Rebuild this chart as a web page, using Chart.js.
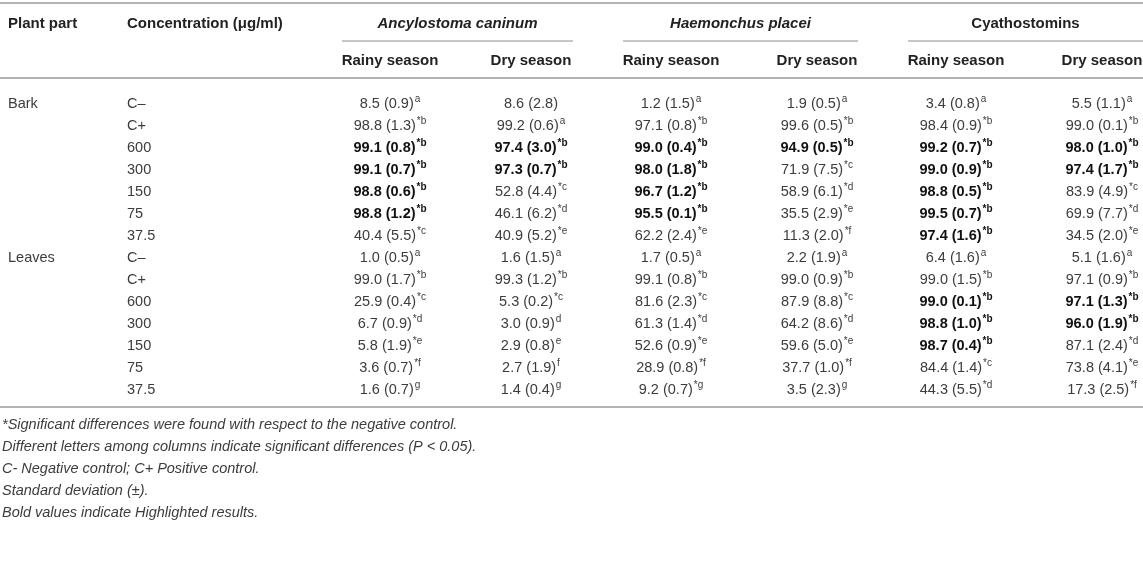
<!DOCTYPE html>
<html>
<head>
<meta charset="utf-8">
<script src="https://cdn.jsdelivr.net/npm/chart.js@4.4.1/dist/chart.umd.min.js"></script>
<style>
  html, body { margin: 0; padding: 0; background: #fff; }
  #wrap { position: relative; width: 1143px; height: 576px; }
</style>
</head>
<body>
<div id="wrap"><canvas id="table"></canvas></div>
<script>
// table categories
var plantParts = ['Bark', 'Leaves'];
var concentrations = ['C–', 'C+', '600', '300', '150', '75', '37.5'];
var species = ['Ancylostoma caninum', 'Haemonchus placei', 'Cyathostomins'];
var seasons = ['Rainy season', 'Dry season'];

// one entry per row: Bark C-..37.5, then Leaves C-..37.5
var acRainyMean = [8.5, 98.8, 99.1, 99.1, 98.8, 98.8, 40.4, 1.0, 99.0, 25.9, 6.7, 5.8, 3.6, 1.6];
var acRainySd   = [0.9, 1.3, 0.8, 0.7, 0.6, 1.2, 5.5, 0.5, 1.7, 0.4, 0.9, 1.9, 0.7, 0.7];
var acRainySig  = ['a', '*b', '*b', '*b', '*b', '*b', '*c', 'a', '*b', '*c', '*d', '*e', '*f', 'g'];
var acRainyBold = [0, 0, 1, 1, 1, 1, 0, 0, 0, 0, 0, 0, 0, 0];

var acDryMean = [8.6, 99.2, 97.4, 97.3, 52.8, 46.1, 40.9, 1.6, 99.3, 5.3, 3.0, 2.9, 2.7, 1.4];
var acDrySd   = [2.8, 0.6, 3.0, 0.7, 4.4, 6.2, 5.2, 1.5, 1.2, 0.2, 0.9, 0.8, 1.9, 0.4];
var acDrySig  = ['', 'a', '*b', '*b', '*c', '*d', '*e', 'a', '*b', '*c', 'd', 'e', 'f', 'g'];
var acDryBold = [0, 0, 1, 1, 0, 0, 0, 0, 0, 0, 0, 0, 0, 0];

var hpRainyMean = [1.2, 97.1, 99.0, 98.0, 96.7, 95.5, 62.2, 1.7, 99.1, 81.6, 61.3, 52.6, 28.9, 9.2];
var hpRainySd   = [1.5, 0.8, 0.4, 1.8, 1.2, 0.1, 2.4, 0.5, 0.8, 2.3, 1.4, 0.9, 0.8, 0.7];
var hpRainySig  = ['a', '*b', '*b', '*b', '*b', '*b', '*e', 'a', '*b', '*c', '*d', '*e', '*f', '*g'];
var hpRainyBold = [0, 0, 1, 1, 1, 1, 0, 0, 0, 0, 0, 0, 0, 0];

var hpDryMean = [1.9, 99.6, 94.9, 71.9, 58.9, 35.5, 11.3, 2.2, 99.0, 87.9, 64.2, 59.6, 37.7, 3.5];
var hpDrySd   = [0.5, 0.5, 0.5, 7.5, 6.1, 2.9, 2.0, 1.9, 0.9, 8.8, 8.6, 5.0, 1.0, 2.3];
var hpDrySig  = ['a', '*b', '*b', '*c', '*d', '*e', '*f', 'a', '*b', '*c', '*d', '*e', '*f', 'g'];
var hpDryBold = [0, 0, 1, 0, 0, 0, 0, 0, 0, 0, 0, 0, 0, 0];

var cyRainyMean = [3.4, 98.4, 99.2, 99.0, 98.8, 99.5, 97.4, 6.4, 99.0, 99.0, 98.8, 98.7, 84.4, 44.3];
var cyRainySd   = [0.8, 0.9, 0.7, 0.9, 0.5, 0.7, 1.6, 1.6, 1.5, 0.1, 1.0, 0.4, 1.4, 5.5];
var cyRainySig  = ['a', '*b', '*b', '*b', '*b', '*b', '*b', 'a', '*b', '*b', '*b', '*b', '*c', '*d'];
var cyRainyBold = [0, 0, 1, 1, 1, 1, 1, 0, 0, 1, 1, 1, 0, 0];

var cyDryMean = [5.5, 99.0, 98.0, 97.4, 83.9, 69.9, 34.5, 5.1, 97.1, 97.1, 96.0, 87.1, 73.8, 17.3];
var cyDrySd   = [1.1, 0.1, 1.0, 1.7, 4.9, 7.7, 2.0, 1.6, 0.9, 1.3, 1.9, 2.4, 4.1, 2.5];
var cyDrySig  = ['a', '*b', '*b', '*b', '*c', '*d', '*e', 'a', '*b', '*b', '*b', '*d', '*e', '*f'];
var cyDryBold = [0, 0, 1, 1, 0, 0, 0, 0, 0, 1, 1, 0, 0, 0];

var footnotes = [
  '*Significant differences were found with respect to the negative control.',
  'Different letters among columns indicate significant differences (P < 0.05).',
  'C- Negative control; C+ Positive control.',
  'Standard deviation (±).',
  'Bold values indicate Highlighted results.'
];

// ---- layout (pixels for x, row units for y) ----
var FONT = '"Liberation Sans", Arial, Helvetica, sans-serif';
var ROW_TOP = 104, ROW_STEP = 22;
var colX = [8, 127, 390, 531, 671, 817, 956, 1102];   // plant, conc, then 6 value columns
var groupSpan = [[342, 573], [623, 858], [908, 1143]];
var Y_TOPRULE = -4.6, Y_HEAD = -3.65, Y_GROUPRULE = -2.85, Y_SUB = -1.96, Y_SUBRULE = -1.2;
var Y_BOTRULE = 13.78, Y_FOOT = 14.6;

var nRows = plantParts.length * concentrations.length;
var valueCols = [
  [acRainyMean, acRainySd, acRainySig, acRainyBold],
  [acDryMean, acDrySd, acDrySig, acDryBold],
  [hpRainyMean, hpRainySd, hpRainySig, hpRainyBold],
  [hpDryMean, hpDrySd, hpDrySig, hpDryBold],
  [cyRainyMean, cyRainySd, cyRainySig, cyRainyBold],
  [cyDryMean, cyDrySd, cyDrySig, cyDryBold]
];

var datasets = [];
// plant part column
datasets.push({
  align: 'left',
  cells: plantParts.map(function (p) { return { text: p }; }),
  data: plantParts.map(function (p, k) { return { x: colX[0], y: k * concentrations.length }; })
});
// concentration column
var concCells = [], concPts = [];
for (var r = 0; r < nRows; r++) {
  concCells.push({ text: concentrations[r % concentrations.length] });
  concPts.push({ x: colX[1], y: r });
}
datasets.push({ align: 'left', cells: concCells, data: concPts });
// value columns
valueCols.forEach(function (col, c) {
  var cells = [], pts = [];
  for (var r = 0; r < nRows; r++) {
    cells.push({
      text: col[0][r].toFixed(1) + ' (' + col[1][r].toFixed(1) + ')',
      sup: col[2][r],
      bold: !!col[3][r]
    });
    pts.push({ x: colX[c + 2], y: r });
  }
  datasets.push({ align: 'center', cells: cells, data: pts });
});
datasets.forEach(function (d) { d.pointRadius = 0; d.showLine = false; });

function drawText(ctx, x, y, cell, align) {
  var weight = cell.bold ? 'bold ' : '';
  var style = cell.italic ? 'italic ' : '';
  var size = cell.size || 14.5;
  var mainFont = style + weight + size + 'px ' + FONT;
  var supFont = style + weight + '10px ' + FONT;
  ctx.font = mainFont;
  var w = ctx.measureText(cell.text).width;
  var sw = 0;
  if (cell.sup) {
    ctx.font = supFont;
    sw = ctx.measureText(cell.sup).width + 1;
    ctx.font = mainFont;
  }
  var x0 = align === 'center' ? x - (w + sw) / 2 : x;
  ctx.fillStyle = cell.color || (cell.bold ? '#111' : '#3c3c3c');
  ctx.textAlign = 'left';
  ctx.textBaseline = 'middle';
  ctx.fillText(cell.text, x0, y);
  if (cell.sup) {
    ctx.font = supFont;
    ctx.fillText(cell.sup, x0 + w + 1, y - 5);
  }
}

var tablePlugin = {
  id: 'tableText',
  afterDatasetsDraw: function (chart) {
    var ctx = chart.ctx, xs = chart.scales.x, ys = chart.scales.y;
    ctx.save();
    function rule(row, x0, x1, color, lw) {
      var y = Math.round(ys.getPixelForValue(row));
      ctx.strokeStyle = color;
      ctx.lineWidth = lw;
      ctx.beginPath();
      ctx.moveTo(xs.getPixelForValue(x0), y);
      ctx.lineTo(xs.getPixelForValue(x1), y);
      ctx.stroke();
    }
    rule(Y_TOPRULE, 0, 1143, '#b4b4b4', 2);
    rule(Y_SUBRULE, 0, 1143, '#b4b4b4', 2);
    rule(Y_BOTRULE, 0, 1143, '#b4b4b4', 2);
    groupSpan.forEach(function (s) { rule(Y_GROUPRULE, s[0], s[1], '#b4b4b4', 1.5); });

    // header
    var yh = ys.getPixelForValue(Y_HEAD), ysb = ys.getPixelForValue(Y_SUB);
    drawText(ctx, xs.getPixelForValue(colX[0]), yh, { text: 'Plant part', bold: true, color: '#222', size: 15 }, 'left');
    drawText(ctx, xs.getPixelForValue(colX[1]), yh, { text: 'Concentration (μg/ml)', bold: true, color: '#222', size: 15 }, 'left');
    species.forEach(function (s, k) {
      var cx = (xs.getPixelForValue(groupSpan[k][0]) + xs.getPixelForValue(groupSpan[k][1])) / 2;
      drawText(ctx, cx, yh, { text: s, bold: true, italic: k < 2, color: '#222', size: 15 }, 'center');
      seasons.forEach(function (sn, j) {
        drawText(ctx, xs.getPixelForValue(colX[2 + 2 * k + j]), ysb, { text: sn, bold: true, color: '#222', size: 15 }, 'center');
      });
    });

    // body cells, positioned by the scales through the point elements
    chart.data.datasets.forEach(function (ds, di) {
      chart.getDatasetMeta(di).data.forEach(function (pt, i) {
        drawText(ctx, pt.x, pt.y, ds.cells[i], ds.align);
      });
    });

    // footnotes
    footnotes.forEach(function (f, k) {
      drawText(ctx, xs.getPixelForValue(colX[0]) - 6, ys.getPixelForValue(Y_FOOT + k), { text: f, italic: true, color: '#3c3c3c' }, 'left');
    });
    ctx.restore();
  }
};

new Chart(document.getElementById('table'), {
  type: 'scatter',
  data: { datasets: datasets },
  options: {
    responsive: true,
    maintainAspectRatio: false,
    animation: false,
    layout: { padding: 0 },
    plugins: { legend: { display: false }, tooltip: { enabled: false } },
    events: [],
    scales: {
      x: { type: 'linear', display: false, min: 0, max: 1143 },
      y: { type: 'linear', display: false, reverse: true,
           min: -ROW_TOP / ROW_STEP, max: (576 - ROW_TOP) / ROW_STEP }
    }
  },
  plugins: [tablePlugin]
});
</script>
</body>
</html>
